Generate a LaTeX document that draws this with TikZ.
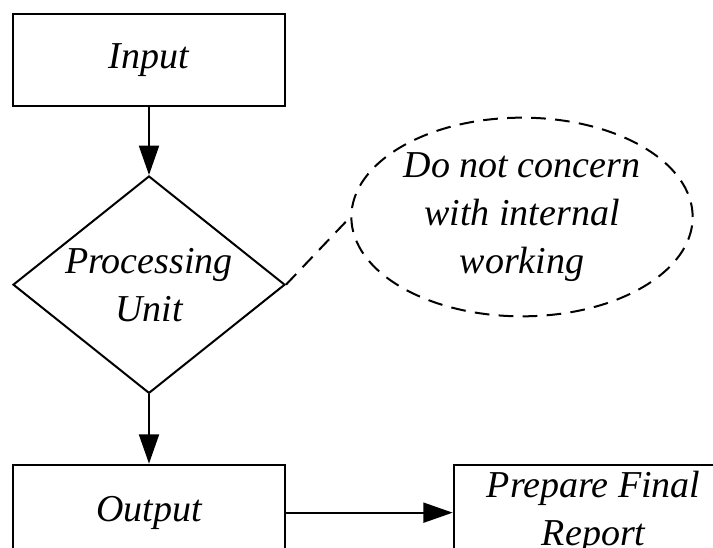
\documentclass[tikz,border=0pt]{standalone}
\usepackage{fontspec}
\setmainfont{Liberation Serif}
\usetikzlibrary{positioning,shapes.geometric,arrows.meta}
\tikzset{
  stage/.style    = {shape=rectangle, draw, align=center, line width=1.5pt,
                     minimum width=204pt, minimum height=69pt},
  decide/.style   = {shape=diamond, draw, align=center, line width=1.5pt,
                     inner sep=0pt, aspect=1.25,
                     minimum width=204pt, minimum height=163pt},
  remark/.style   = {shape=ellipse, draw, align=center, line width=1.5pt,
                     dash pattern=on 11pt off 7pt, inner sep=0pt,
                     minimum width=256pt, minimum height=149pt}
}

\begin{document}
\begin{tikzpicture}
  [
    x                 = 0.75pt,
    y                 = -0.75pt,
    node distance     = 51pt,
    every node/.style = {font=\fontsize{28.5}{36}\selectfont\itshape},
    flow/.style       = {draw, line width=1.5pt,
                         -{Triangle[length=22pt,width=15pt]}},
    aside/.style      = {draw, line width=1.5pt, dash pattern=on 11pt off 7pt}
  ]
  \useasboundingbox (0,0) rectangle (713,548);
  \clip (0,0) rectangle (713,548);
  \node [stage] (input) at (149,60) {Input};
  \node [decide, below=51pt of input] (unit) {Processing\\Unit};
  \node [stage, minimum height=72pt, below=52pt of unit] (output) {Output};
  \node [stage, minimum width=210pt, minimum height=72pt,
         right=125pt of output] (report) {Prepare Final\\Report};
  \node [remark] (note) at (522,217) {Do not concern\\with internal\\working};
  \draw [flow] (input) -- (unit);
  \draw [flow] (unit) -- (output);
  \draw [flow] (output) -- (report);
  \draw [aside] (unit.east) -- (note.west);
\end{tikzpicture}
\end{document}
